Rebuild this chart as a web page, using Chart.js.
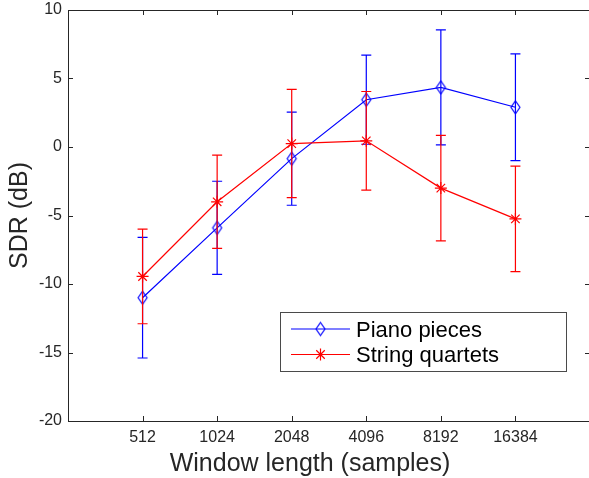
<!DOCTYPE html>
<html>
<head>
<meta charset="utf-8">
<script src="https://cdn.jsdelivr.net/npm/chart.js@4.4.1/dist/chart.umd.min.js"></script>
<style>
  html, body { margin: 0; padding: 0; background: #fff; overflow: hidden; }
  #wrap { width: 591px; height: 478px; }
</style>
</head>
<body>
<div id="wrap"><canvas id="sdrChart" width="591" height="478"></canvas></div>
<script>
// window lengths on the x axis, SDR mean and error half-width per series
const windowLabels = ['512', '1024', '2048', '4096', '8192', '16384'];
const pianoMean = [-11.0, -5.9, -0.85, 3.45, 4.35, 2.9];
const pianoErr = [4.4, 3.4, 3.4, 3.25, 4.2, 3.9];
const stringMean = [-9.45, -4.0, 0.25, 0.45, -3.0, -5.25];
const stringErr = [3.45, 3.4, 3.95, 3.6, 3.85, 3.85];
const yTickValues = [-20, -15, -10, -5, 0, 5, 10];
const xTitle = 'Window length (samples)';
const yTitle = 'SDR (dB)';

const AXIS_COLOR = '#262626';
const FONT = '"Liberation Sans", Arial, Helvetica, sans-serif';
const xPositions = windowLabels.map((_, i) => i + 1);

// MATLAB style diamond (taller than wide), drawn once and reused as point image
function makeDiamond(color) {
  const c = document.createElement('canvas');
  c.width = 13; c.height = 17;
  const g = c.getContext('2d');
  g.strokeStyle = color;
  g.lineWidth = 1.2;
  g.beginPath();
  g.moveTo(6.5, 2); g.lineTo(11, 8.5); g.lineTo(6.5, 15); g.lineTo(2, 8.5); g.closePath();
  g.stroke();
  return c;
}
const diamond = makeDiamond('#0000ff');

function drawStar(ctx, x, y, r, color) {
  const d = r * Math.SQRT1_2;
  ctx.save();
  ctx.strokeStyle = color;
  ctx.lineWidth = 1.2;
  ctx.beginPath();
  ctx.moveTo(x - r, y); ctx.lineTo(x + r, y);
  ctx.moveTo(x, y - r); ctx.lineTo(x, y + r);
  ctx.moveTo(x - d, y - d); ctx.lineTo(x + d, y + d);
  ctx.moveTo(x - d, y + d); ctx.lineTo(x + d, y - d);
  ctx.stroke();
  ctx.restore();
}

const errorBars = {
  id: 'errorBars',
  beforeDatasetDraw(chart, args) {
    const ds = chart.data.datasets[args.index];
    if (!ds.errors) return;
    const { ctx, scales: { x, y } } = chart;
    ctx.save();
    ctx.strokeStyle = ds.borderColor;
    ctx.lineWidth = 1.2;
    ds.data.forEach((pt, i) => {
      const px = x.getPixelForValue(pt.x);
      const top = y.getPixelForValue(pt.y + ds.errors[i]);
      const bot = y.getPixelForValue(pt.y - ds.errors[i]);
      ctx.beginPath();
      ctx.moveTo(px, top); ctx.lineTo(px, bot);
      ctx.moveTo(px - 5, top); ctx.lineTo(px + 5, top);
      ctx.moveTo(px - 5, bot); ctx.lineTo(px + 5, bot);
      ctx.stroke();
    });
    ctx.restore();
  }
};

const matlabAxes = {
  id: 'matlabAxes',
  afterDraw(chart) {
    const { ctx, chartArea: a, scales: { x, y } } = chart;
    ctx.save();
    ctx.strokeStyle = AXIS_COLOR;
    ctx.lineWidth = 1;
    ctx.strokeRect(a.left + 0.5, a.top + 0.5, a.right - a.left - 1, a.bottom - a.top);
    ctx.beginPath();
    xPositions.forEach(v => {
      const px = Math.round(x.getPixelForValue(v)) + 0.5;
      ctx.moveTo(px, a.bottom); ctx.lineTo(px, a.bottom - 5);
      ctx.moveTo(px, a.top); ctx.lineTo(px, a.top + 5);
    });
    yTickValues.forEach(v => {
      const py = Math.round(y.getPixelForValue(v)) + 0.5;
      ctx.moveTo(a.left, py); ctx.lineTo(a.left + 5, py);
      ctx.moveTo(a.right, py); ctx.lineTo(a.right - 5, py);
    });
    ctx.stroke();

    ctx.fillStyle = AXIS_COLOR;
    ctx.font = '25px ' + FONT;
    ctx.textAlign = 'center';
    ctx.textBaseline = 'alphabetic';
    ctx.fillText(xTitle, 310, 471);

    // legend
    const lx = 280, ly = 312, lw = 286, lh = 59;
    ctx.fillStyle = '#fff';
    ctx.fillRect(lx, ly, lw, lh);
    ctx.strokeStyle = '#4a4a4a';
    ctx.strokeRect(lx + 0.5, ly + 0.5, lw, lh);
    const rows = [329, 354.5];
    chart.data.datasets.forEach((ds, i) => {
      const ry = rows[i];
      ctx.strokeStyle = ds.borderColor;
      ctx.lineWidth = 1.2;
      ctx.beginPath();
      ctx.moveTo(291, ry); ctx.lineTo(350, ry);
      ctx.stroke();
      if (ds.pointStyle === 'star') drawStar(ctx, 320.5, ry, 6, ds.borderColor);
      else ctx.drawImage(diamond, 320.5 - diamond.width / 2, ry - diamond.height / 2);
      ctx.fillStyle = '#000';
      ctx.font = '22px ' + FONT;
      ctx.textAlign = 'left';
      ctx.fillText(ds.label, 356, ry + 7.5);
    });
    ctx.restore();
  }
};

new Chart(document.getElementById('sdrChart'), {
  type: 'line',
  data: {
    datasets: [
      {
        label: 'Piano pieces',
        data: xPositions.map((v, i) => ({ x: v, y: pianoMean[i] })),
        errors: pianoErr,
        borderColor: '#0000ff',
        borderWidth: 1.2,
        pointStyle: diamond,
        pointRadius: 6,
        fill: false,
        tension: 0,
        order: 2
      },
      {
        label: 'String quartets',
        data: xPositions.map((v, i) => ({ x: v, y: stringMean[i] })),
        errors: stringErr,
        borderColor: '#ff0000',
        backgroundColor: '#ff0000',
        borderWidth: 1.2,
        pointStyle: 'star',
        pointRadius: 6,
        pointBorderWidth: 1.2,
        fill: false,
        tension: 0,
        order: 1
      }
    ]
  },
  options: {
    responsive: false,
    animation: false,
    devicePixelRatio: 1,
    layout: { autoPadding: false, padding: { top: 10, right: 1, left: 0, bottom: 0 } },
    plugins: { legend: { display: false }, tooltip: { enabled: false } },
    scales: {
      x: {
        type: 'linear',
        min: 0,
        max: 7,
        grid: { display: false, drawTicks: false },
        border: { display: false },
        afterBuildTicks: scale => { scale.ticks = xPositions.map(v => ({ value: v })); },
        afterFit: scale => {
          scale.height = 57;
          scale.paddingLeft = 0;
          scale.paddingRight = 0;
        },
        ticks: {
          autoSkip: false,
          maxRotation: 0,
          padding: 7,
          color: AXIS_COLOR,
          font: { family: FONT, size: 16 },
          callback: v => windowLabels[v - 1]
        },
        title: { display: false }
      },
      y: {
        min: -20,
        max: 10,
        grid: { display: false, drawTicks: false },
        border: { display: false },
        afterBuildTicks: scale => { scale.ticks = yTickValues.map(v => ({ value: v })); },
        afterFit: scale => {
          scale.width = 68;
          scale.paddingTop = 0;
          scale.paddingBottom = 0;
        },
        ticks: {
          padding: 6,
          color: AXIS_COLOR,
          font: { family: FONT, size: 16 }
        },
        title: {
          display: true,
          text: yTitle,
          color: AXIS_COLOR,
          font: { family: FONT, size: 25 },
          padding: { top: 5, bottom: 0 }
        }
      }
    }
  },
  plugins: [errorBars, matlabAxes]
});
</script>
</body>
</html>
